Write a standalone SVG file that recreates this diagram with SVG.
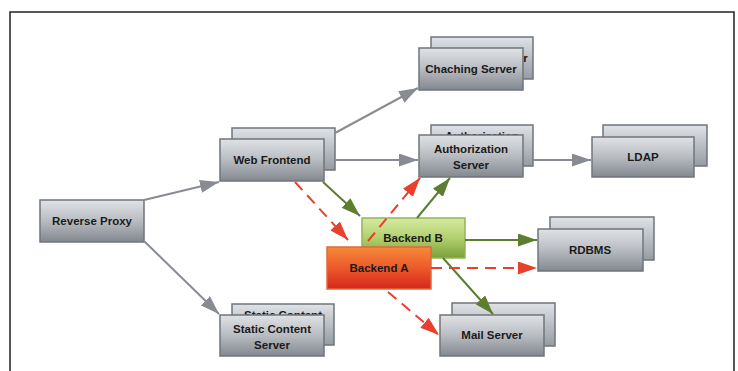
<svg xmlns="http://www.w3.org/2000/svg" width="738" height="371" viewBox="0 0 738 371">
<style>
.box{fill:url(#gGray);stroke:#6f757c;stroke-width:1.5}
.back{fill:url(#gGray2);stroke:#6f757c;stroke-width:1.5}
.t{font-family:"Liberation Sans",Arial,sans-serif;font-weight:bold;font-size:11.5px;fill:#1a1a1a;text-anchor:middle}
.c{fill:none;stroke-width:2}
.gray{stroke:#888c92}
.green{stroke:#5d7d2f}
.red{stroke:#e8402c;stroke-dasharray:11 7}
</style>
<defs>
<linearGradient id="gGray" x1="0" y1="0" x2="0" y2="1">
<stop offset="0" stop-color="#e0e2e5"/>
<stop offset="0.5" stop-color="#b8bcc1"/>
<stop offset="1" stop-color="#83888f"/>
</linearGradient>
<linearGradient id="gGray2" x1="0" y1="0" x2="0" y2="1">
<stop offset="0" stop-color="#dfe2e6"/>
<stop offset="1" stop-color="#969ba2"/>
</linearGradient>
<linearGradient id="gGreen" x1="0" y1="0" x2="0" y2="1">
<stop offset="0" stop-color="#d6eaa2"/>
<stop offset="0.5" stop-color="#b2d06e"/>
<stop offset="1" stop-color="#7a9f3a"/>
</linearGradient>
<linearGradient id="gRed" x1="0" y1="0" x2="0" y2="1">
<stop offset="0" stop-color="#f58a3a"/>
<stop offset="0.5" stop-color="#ec5a2a"/>
<stop offset="1" stop-color="#d6261c"/>
</linearGradient>
<marker id="aGray" viewBox="0 0 19 13" refX="19" refY="6.5" markerWidth="19" markerHeight="13" markerUnits="userSpaceOnUse" orient="auto"><path d="M0,0 L19,6.5 L0,13 z" fill="#888c92"/></marker>
<marker id="aGreen" viewBox="0 0 19 13" refX="19" refY="6.5" markerWidth="19" markerHeight="13" markerUnits="userSpaceOnUse" orient="auto"><path d="M0,0 L19,6.5 L0,13 z" fill="#5d7d2f"/></marker>
<marker id="aRed" viewBox="0 0 19 13" refX="19" refY="6.5" markerWidth="19" markerHeight="13" markerUnits="userSpaceOnUse" orient="auto"><path d="M0,0 L19,6.5 L0,13 z" fill="#e8402c"/></marker>
</defs>
<rect width="738" height="371" fill="#ffffff"/>
<path d="M10,380 V12 H734 V380" fill="none" stroke="#222" stroke-width="1.5"/>

<g id="reverse-proxy">
<rect class="box" x="40" y="200" width="104" height="42"/>
<text class="t" x="92" y="225">Reverse Proxy</text>
</g>
<g id="web-frontend">
<rect class="back" x="232" y="128" width="103" height="42"/>
<rect class="box" x="220" y="139" width="104" height="42"/>
<text class="t" x="272" y="164">Web Frontend</text>
</g>
<g id="caching-server">
<rect class="back" x="431" y="37" width="102" height="42"/>
<text class="t" x="482" y="62">Chaching Server</text>
<rect class="box" x="419" y="48" width="104" height="42"/>
<text class="t" x="471" y="73">Chaching Server</text>
</g>
<g id="authorization-server">
<rect class="back" x="431" y="125" width="102" height="41"/>
<text class="t" x="482" y="140">Authorization</text>
<rect class="box" x="419" y="135" width="104" height="42"/>
<text class="t" x="471" y="153">Authorization</text>
<text class="t" x="471" y="169">Server</text>
</g>
<g id="ldap">
<rect class="back" x="603" y="125" width="104" height="41"/>
<rect class="box" x="592" y="137" width="102" height="40"/>
<text class="t" x="643" y="161">LDAP</text>
</g>
<g id="static-content-server">
<rect class="back" x="232" y="304" width="102" height="41"/>
<text class="t" x="283" y="319">Static Content</text>
<rect class="box" x="220" y="315" width="104" height="41"/>
<text class="t" x="272" y="333">Static Content</text>
<text class="t" x="272" y="349">Server</text>
</g>
<g id="rdbms">
<rect class="back" x="550" y="217" width="104" height="43"/>
<rect class="box" x="538" y="229" width="105" height="42"/>
<text class="t" x="590" y="254">RDBMS</text>
</g>
<g id="mail-server">
<rect class="back" x="452" y="303" width="103" height="43"/>
<rect class="box" x="440" y="315" width="104" height="41"/>
<text class="t" x="492" y="339">Mail Server</text>
</g>
<g id="backend-b">
<rect x="362" y="218" width="103" height="40" fill="url(#gGreen)" stroke="#93b555" stroke-width="1.5"/>
<text class="t" x="413" y="242">Backend B</text>
</g>
<g id="backend-a">
<rect x="327" y="247" width="104" height="42" fill="url(#gRed)" stroke="#e06a3a" stroke-width="1.5"/>
<text class="t" x="379" y="272">Backend A</text>
</g>

<g id="connectors">
<line class="c gray" x1="144" y1="200" x2="219" y2="182" marker-end="url(#aGray)"/>
<line class="c gray" x1="144" y1="241" x2="219" y2="314" marker-end="url(#aGray)"/>
<line class="c gray" x1="335" y1="133" x2="418" y2="88" marker-end="url(#aGray)"/>
<line class="c gray" x1="335" y1="160" x2="418" y2="160" marker-end="url(#aGray)"/>
<line class="c gray" x1="533" y1="160" x2="591" y2="160" marker-end="url(#aGray)"/>
<line class="c green" x1="323" y1="182" x2="360" y2="216" marker-end="url(#aGreen)"/>
<line class="c green" x1="417" y1="218" x2="450" y2="178" marker-end="url(#aGreen)"/>
<line class="c green" x1="465" y1="240" x2="537" y2="240" marker-end="url(#aGreen)"/>
<line class="c green" x1="443" y1="258" x2="493" y2="314" marker-end="url(#aGreen)"/>
<line class="c red" x1="295" y1="182" x2="348" y2="240" marker-end="url(#aRed)"/>
<line class="c red" x1="368" y1="241" x2="420" y2="178" marker-end="url(#aRed)"/>
<line class="c red" x1="431" y1="268" x2="537" y2="268" marker-end="url(#aRed)"/>
<line class="c red" x1="388" y1="292" x2="439" y2="335" marker-end="url(#aRed)"/>
</g>
</svg>
